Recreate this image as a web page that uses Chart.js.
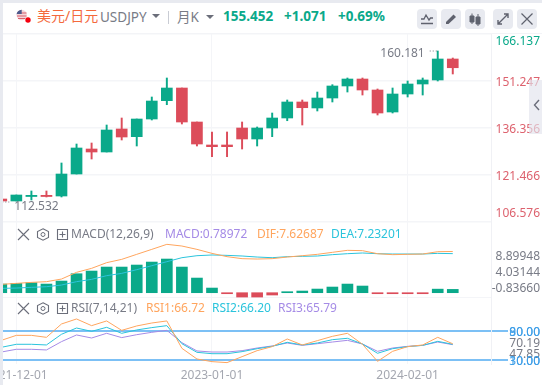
<!DOCTYPE html>
<html>
<head>
<meta charset="utf-8">
<script src="https://cdn.jsdelivr.net/npm/chart.js@4"></script>
<style>
html, body { margin: 0; padding: 0; background: #fff; overflow: hidden; }
body { width: 542px; height: 385px; position: relative; font-family: "Noto Sans", "Noto Sans CJK SC", sans-serif; font-size: 12px; color: #787b86; }
canvas { position: absolute; left: 0; }
.t { position: absolute; white-space: nowrap; line-height: 16px; }
.box { position: absolute; background: #e8eaf0; }
svg { position: absolute; }
.btn { position: absolute; top: 9px; width: 20px; height: 20px; border-radius: 4px; background: #e8eaf0; }
</style>
</head>
<body>
<canvas id="main" width="542" height="189" style="top:34px"></canvas>
<canvas id="macd" width="542" height="75" style="top:223px"></canvas>
<canvas id="rsi" width="542" height="87" style="top:298px"></canvas>

<!-- frame -->
<div class="box" style="left:0;top:0;width:542px;height:3px"></div>
<div class="box" style="left:0;top:0;width:3px;height:385px"></div>
<div class="box" style="left:3px;top:33px;width:539px;height:1px;background:#f3f4f7"></div>
<div class="box" style="left:529px;top:80px;width:13px;height:54px;background:rgba(226,228,236,.65)"></div>
<svg style="left:533px;top:99px" width="8" height="12"><path d="M6 1 L1.5 6 L6 11" fill="none" stroke="#6b6e7a" stroke-width="1.4"/></svg>

<!-- header -->
<svg style="left:15px;top:8px" width="18" height="18">
  <circle cx="6.7" cy="7" r="5.2" fill="#f3d5da"/>
  <path d="M2 5 H11.5 M2 8 H11.5 M3 10.5 H10" stroke="#d8616e" stroke-width="1"/>
  <path d="M1.5 7 A5.2 5.2 0 0 1 6.7 1.8 V6 H1.5 Z" fill="#4b5a8c"/>
  <circle cx="13" cy="12" r="2.7" fill="#f5000f"/>
</svg>
<span class="t" style="left:37px;top:8px;font-size:14px;color:#f4693c">美元/日元</span>
<span class="t" style="left:100px;top:9px;font-size:13.5px">USDJPY</span>
<svg style="left:152px;top:14px" width="9" height="5"><path d="M0 0 H8 L4 4 Z" fill="#6b6e7a"/></svg>
<div class="box" style="left:168px;top:11px;width:1px;height:13px;background:#c9ccd4"></div>
<span class="t" style="left:177px;top:9px;font-size:13.5px">月K</span>
<svg style="left:206px;top:15px" width="9" height="5"><path d="M0 0 H8 L4 4 Z" fill="#6b6e7a"/></svg>
<span class="t" style="left:223px;top:8px;font-size:13.5px;font-weight:700;color:#0aa98a">155.452</span>
<span class="t" style="left:284px;top:8px;font-size:13.5px;font-weight:700;color:#0aa98a">+1.071</span>
<span class="t" style="left:338px;top:8px;font-size:13.5px;font-weight:700;color:#0aa98a">+0.69%</span>

<div class="btn" style="left:417px"><svg width="20" height="20"><path d="M4 10 H7 L9 6 L12 11 L13.5 9 H16 M4 14.5 H16" fill="none" stroke="#5f626e" stroke-width="1.3"/></svg></div>
<div class="btn" style="left:441px"><svg width="20" height="20"><path d="M5 13 L12.5 5.5 L15 8 L7.5 15 H5 Z" fill="#5f626e"/></svg></div>
<div class="btn" style="left:465px"><svg width="20" height="20"><path d="M5 7 H9 V13 H5 Z M11 8 H15 V15 H11 Z M7 4.5 V15 M13 5 V17" fill="#5f626e" stroke="#5f626e"/></svg></div>
<div class="btn" style="left:493px"><svg width="20" height="20"><path d="M5 15 L15 5 M11 5 H15 V9 M5 11 V15 H9" fill="none" stroke="#5f626e" stroke-width="1.4"/></svg></div>
<div class="btn" style="left:517px"><svg width="20" height="20"><path d="M4.5 4.5 L15.5 15.5 M15.5 4.5 L4.5 15.5" stroke="#5f626e" stroke-width="1.2"/></svg></div>

<!-- macd legend -->
<svg style="left:17px;top:228px" width="54" height="13">
  <path d="M1 1 L12 12 M12 1 L1 12" stroke="#6b6e7a" stroke-width="1.1"/>
  <path d="M26 0.8 L31.5 3.6 V9.4 L26 12.2 L20.5 9.4 V3.6 Z" fill="none" stroke="#6b6e7a" stroke-width="1.1"/><circle cx="26" cy="6.5" r="2" fill="none" stroke="#6b6e7a"/>
  <path d="M40.5 1.5 H50.5 V11.5 H40.5 Z M45.5 3.5 V9.5 M42.5 6.5 H48.5" fill="none" stroke="#6b6e7a" stroke-width="1.1"/>
</svg>
<span class="t" style="left:71px;top:226px">MACD(12,26,9)</span>
<span class="t" style="left:165px;top:226px;color:#a58be6">MACD:0.78972</span>
<span class="t" style="left:257px;top:226px;color:#ffa55e">DIF:7.62687</span>
<span class="t" style="left:331px;top:226px;color:#2bc4dc">DEA:7.23201</span>

<!-- rsi legend -->
<svg style="left:17px;top:302px" width="54" height="13">
  <path d="M1 1 L12 12 M12 1 L1 12" stroke="#6b6e7a" stroke-width="1.1"/>
  <path d="M26 0.8 L31.5 3.6 V9.4 L26 12.2 L20.5 9.4 V3.6 Z" fill="none" stroke="#6b6e7a" stroke-width="1.1"/><circle cx="26" cy="6.5" r="2" fill="none" stroke="#6b6e7a"/>
  <path d="M40.5 1.5 H50.5 V11.5 H40.5 Z M45.5 3.5 V9.5 M42.5 6.5 H48.5" fill="none" stroke="#6b6e7a" stroke-width="1.1"/>
</svg>
<span class="t" style="left:71px;top:300px">RSI(7,14,21)</span>
<span class="t" style="left:146px;top:300px;color:#ffa55e">RSI1:66.72</span>
<span class="t" style="left:212px;top:300px;color:#2bc4dc">RSI2:66.20</span>
<span class="t" style="left:278px;top:300px;color:#a58be6">RSI3:65.79</span>

<script>
var months = ["2021-11-01","2021-12-01","2022-01-01","2022-02-01","2022-03-01","2022-04-01","2022-05-01","2022-06-01","2022-07-01","2022-08-01","2022-09-01","2022-10-01","2022-11-01","2022-12-01","2023-01-01","2023-02-01","2023-03-01","2023-04-01","2023-05-01","2023-06-01","2023-07-01","2023-08-01","2023-09-01","2023-10-01","2023-11-01","2023-12-01","2024-01-01","2024-02-01","2024-03-01","2024-04-01","2024-05-01"];
var openVals  = [113.87,113.24,114.66,115.04,114.82,121.79,129.71,128.76,136.05,133.61,139.21,145.01,149.03,138.26,130.98,130.98,136.36,132.88,136.36,139.53,144.60,142.70,145.86,149.67,151.88,148.40,141.43,147.13,150.30,151.57,158.22];
var closeVals = [113.24,115.14,115.04,114.66,121.79,130.03,128.76,135.73,133.51,139.21,144.91,149.03,138.26,131.29,130.44,130.44,132.88,136.36,139.53,144.60,142.79,145.86,149.67,151.88,148.40,141.11,147.13,150.30,151.57,158.22,155.45];
var highVals  = [113.87,115.14,116.41,116.41,125.28,131.29,131.61,137.31,139.53,139.21,146.18,152.20,149.03,138.26,135.10,135.10,138.26,136.68,141.11,145.23,145.23,147.76,150.08,152.20,152.20,148.72,149.03,151.25,152.20,160.75,158.53];
var lowVals   = [113.24,113.24,113.56,114.51,114.51,121.79,126.54,128.76,132.56,130.66,138.90,143.74,137.63,130.66,127.27,127.27,129.71,130.66,133.61,138.67,137.31,141.75,144.60,147.76,146.81,140.48,141.11,146.18,146.81,151.25,153.47];
var priceTicks = [166.137,151.247,136.356,121.466,106.576];

var difVals = [1.54,1.73,1.91,2.04,2.53,3.77,4.51,5.56,6.17,7.10,8.02,8.95,8.64,8.02,7.28,6.67,6.30,6.23,6.30,6.60,6.85,7.10,7.47,7.84,7.78,7.22,7.04,7.10,7.16,7.59,7.63];
var deaVals = [0.80,0.86,0.99,1.11,1.42,2.04,2.47,3.15,3.58,4.26,5.00,5.74,6.48,6.85,6.98,6.91,6.79,6.60,6.48,6.67,6.73,6.79,7.04,7.22,7.35,7.22,7.16,7.16,7.16,7.28,7.23];
var histVals = [2.06,2.22,2.38,2.06,2.78,4.52,5.16,6.11,6.11,6.59,7.30,8.02,6.11,3.49,1.11,-0.24,-1.03,-1.03,-0.55,0.24,0.40,0.87,1.35,2.06,1.59,-0.24,-0.24,-0.24,-0.24,0.85,0.79];
var macdTicks = [8.89948,4.03144,-0.8366];
var macdTickText = ["8.89948","4.03144","-0.83660"];

var rsi1Vals = [70.2,75.3,75.3,73.3,86.9,92.0,85.2,90.0,80.4,84.9,87.9,90.0,62.1,51.2,48.5,47.5,53.6,59.7,63.8,71.6,65.5,69.9,74.3,77.4,66.2,48.8,59.0,63.8,65.5,73.3,66.72];
var rsi2Vals = [63.1,66.2,66.2,65.5,76.4,82.8,79.4,83.5,77.4,80.8,83.2,85.2,66.8,58.0,56.6,56.6,58.7,61.7,64.1,68.2,65.5,67.5,70.9,72.3,66.5,57.0,61.7,63.8,65.1,69.2,66.20];
var rsi3Vals = [58.3,61.1,61.1,60.4,68.9,75.7,72.6,77.4,73.0,76.0,78.4,80.4,67.9,59.4,58.3,58.3,59.7,62.4,64.5,67.5,65.1,66.8,68.5,70.2,66.5,59.0,62.4,64.1,65.1,68.5,65.79];
var rsiBands = [80,30];
var rsiTicks = [70.19,47.85];
var dateTicks = [1,14,27];

var UP = "#0aa98a", DOWN = "#dc4c5a", GRID = "#f4f5f8", GREY = "#787b86", BLUE = "#3f9fe8";
var FONT = '12px "Noto Sans", sans-serif';

function points(vals) {
  return vals.map(function (v, i) { return { x: i, y: v }; });
}
function spans(a, b) {
  return a.map(function (v, i) { return { x: i, y: [v, b[i]] }; });
}
var candleColors = closeVals.map(function (c, i) { return c >= openVals[i] ? UP : DOWN; });

function lineSet(vals, color, axis) {
  return { type: "line", data: points(vals), borderColor: color, borderWidth: 1, pointRadius: 0, tension: 0, yAxisID: axis };
}
function hiddenAxis(min, max) {
  return { axis: "y", display: false, min: min, max: max };
}
function xAxis(showLabels) {
  return {
    type: "linear", min: 0.113, max: 32.54, offset: false,
    border: { display: false },
    grid: { color: GRID, drawTicks: false, offset: false },
    afterBuildTicks: function (s) { s.ticks = dateTicks.map(function (v) { return { value: v }; }); },
    afterFit: function (s) { s.height = showLabels ? 21 : 0; s.paddingLeft = 0; s.paddingRight = 0; },
    ticks: {
      display: showLabels, autoSkip: false, maxRotation: 0, minRotation: 0, padding: 4,
      color: "#a4a7b0", font: { family: '"Noto Sans", sans-serif', size: 12 },
      callback: function (v) { return months[v]; }
    }
  };
}
function yAxis(min, max, ticks, grid) {
  return {
    position: "right", min: min, max: max,
    border: { color: "#f0f1f5" },
    grid: grid,
    ticks: { display: false },
    afterBuildTicks: function (s) { s.ticks = ticks.map(function (v) { return { value: v }; }); },
    afterFit: function (s) { s.width = 51; }
  };
}

// axis text is clamped into its pane, so the library's own tick labels are not used
var axisText = {
  id: "axisText",
  afterDraw: function (chart, args, opts) {
    var ctx = chart.ctx, area = chart.chartArea;
    ctx.save();
    ctx.font = FONT;
    ctx.textBaseline = "middle";
    ctx.textAlign = "right";
    (opts.items || []).forEach(function (it) {
      var y = chart.scales[it.axis].getPixelForValue(it.value) + 1.5;
      if (!it.free) {
        y = Math.min(Math.max(y, area.top + 7.5), area.bottom - 9.5);
      }
      ctx.fillStyle = it.color;
      ctx.fillText(it.text, 540, y);
    });
    (opts.marks || []).forEach(function (m) {
      var x = chart.scales.x.getPixelForValue(m.index);
      var y = chart.scales.y.getPixelForValue(m.value);
      ctx.strokeStyle = GREY;
      ctx.setLineDash([1, 2]);
      ctx.beginPath();
      ctx.moveTo(x + m.dir * 1, y);
      ctx.lineTo(x + m.dir * 10, y);
      ctx.stroke();
      ctx.setLineDash([]);
      ctx.fillStyle = GREY;
      ctx.textAlign = m.dir < 0 ? "right" : "left";
      ctx.fillText(m.text, x + m.dir * 13, y + m.dy);
      ctx.textAlign = "right";
    });
    ctx.restore();
  }
};

function baseOptions(scales, items, marks) {
  return {
    responsive: false,
    animation: false,
    events: [],
    layout: { padding: { left: 3, right: 0, top: 0, bottom: 0 } },
    scales: scales,
    plugins: {
      legend: { display: false },
      tooltip: { enabled: false },
      axisText: { items: items, marks: marks }
    }
  };
}

var priceItems = priceTicks.map(function (v) {
  return { axis: "y", value: v, text: v.toFixed(3), color: v > closeVals[closeVals.length - 1] ? UP : "#dd626e" };
});
var priceMarks = [
  { index: 29, value: highVals[29], text: "160.181", dir: -1, dy: 3 },
  { index: 0, value: 112.92, text: "112.532", dir: 1, dy: 5 }
];

new Chart(document.getElementById("main"), {
  type: "bar",
  data: {
    datasets: [
      { data: spans(lowVals, highVals), backgroundColor: candleColors, barThickness: 1.3, grouped: false, order: 2 },
      { data: spans(openVals, closeVals), backgroundColor: candleColors, barThickness: 11, grouped: false, order: 1 }
    ]
  },
  options: baseOptions({
    x: xAxis(false),
    y: yAxis(106.27, 166.137, priceTicks, { color: GRID, lineWidth: 1.5, drawTicks: false })
  }, priceItems, priceMarks),
  plugins: [axisText]
});

var macdItems = macdTicks.map(function (v, i) {
  return { axis: "y", value: v, text: macdTickText[i], color: GREY };
});

new Chart(document.getElementById("macd"), {
  type: "bar",
  data: {
    datasets: [
      lineSet(difVals, "#ffa55e", "lines"),
      lineSet(deaVals, "#2bc4dc", "lines"),
      {
        data: points(histVals), yAxisID: "hist", barThickness: 11, order: 5,
        backgroundColor: histVals.map(function (v) { return v >= 0 ? UP : DOWN; })
      }
    ]
  },
  options: baseOptions({
    x: xAxis(false),
    y: yAxis(-4.12, 18.69, [-4.12], { color: GRID, lineWidth: 1.5, drawTicks: false }),
    lines: hiddenAxis(-0.98, 12.9),
    hist: hiddenAxis(-1.26, 16.6)
  }, macdItems, []),
  plugins: [axisText]
});

var rsiItems = [
  { axis: "y", value: 80, text: "90.00", color: BLUE, free: true },
  { axis: "y", value: 80, text: "80.00", color: BLUE, free: true },
  { axis: "ticks", value: rsiTicks[0], text: "70.19", color: GREY, free: true },
  { axis: "ticks", value: rsiTicks[1], text: "47.85", color: GREY, free: true },
  { axis: "y", value: 30, text: "10.00", color: BLUE, free: true },
  { axis: "y", value: 30, text: "30.00", color: BLUE, free: true }
];

new Chart(document.getElementById("rsi"), {
  type: "line",
  data: {
    datasets: [
      lineSet(rsi1Vals, "#ffa55e", "lines"),
      lineSet(rsi2Vals, "#2bc4dc", "lines"),
      lineSet(rsi3Vals, "#a58be6", "lines")
    ]
  },
  options: baseOptions({
    x: xAxis(true),
    y: yAxis(22.5, 137.5, rsiBands, { color: "#7cc0f5", lineWidth: 2, drawTicks: true, tickLength: 17 }),
    lines: hiddenAxis(46.09, 113.4),
    ticks: hiddenAxis(24.3, 161.3)
  }, rsiItems, []),
  plugins: [axisText]
});
</script>
</body>
</html>
